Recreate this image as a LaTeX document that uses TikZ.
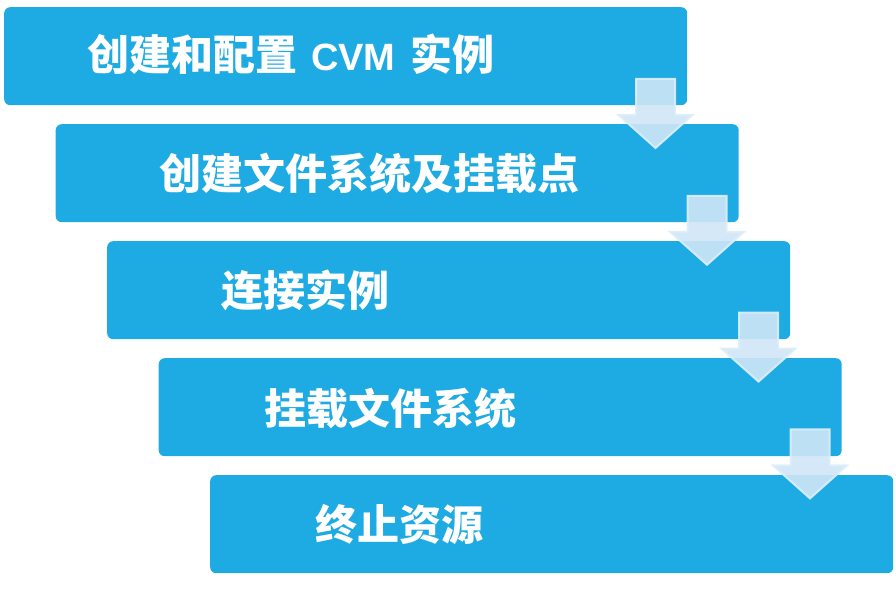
\documentclass[tikz,border=0pt]{standalone}
\usepackage{fontspec}
\newfontfamily\cjk{Noto Sans CJK SC}
\newfontfamily\lat{Liberation Sans}
\definecolor{boxblue}{HTML}{1EAAE2}
\definecolor{arrowfill}{HTML}{D0E6F6}
\definecolor{arrowedge}{HTML}{DDEEF9}
\begin{document}
\begin{tikzpicture}[x=1pt,y=-1pt,
  box/.style={fill=boxblue, rounded corners=6pt, minimum width=683pt, minimum height=98pt, anchor=north west, inner sep=0pt},
  lbl/.style={anchor=base west, inner sep=0pt, text=white, font=\cjk\bfseries\fontsize{42}{42}\selectfont},
  flowarrow/.style={fill=arrowfill, fill opacity=0.9, draw=arrowedge, draw opacity=0.9, line width=2pt, line join=miter}]
\useasboundingbox (0,0) rectangle (896,593);
\node[box] (b1) at (4,7) {};
\node[box] (b2) at (55.5,124) {};
\node[box] (b3) at (107,241) {};
\node[box] (b4) at (158.5,358) {};
\node[box] (b5) at (210,475) {};
\foreach \i in {0,...,3}{
  \pgfmathsetmacro{\c}{655.5+51.5*\i}
  \pgfmathsetmacro{\t}{78+116.8*\i}
  \path[flowarrow] (\c-19.5,\t+1) -- (\c+19.5,\t+1) -- (\c+19.5,\t+37) -- (\c+37,\t+37)
     -- (\c,\t+70) -- (\c-37,\t+37) -- (\c-19.5,\t+37) -- cycle;
}
\node[lbl] (t1) at (87,71) {创建和配置\hspace{14pt}{\lat\fontsize{38}{38}\selectfont CVM}\hspace{15pt}实例};
\node[lbl] (t2) at (159,190) {创建文件系统及挂载点};
\node[lbl] (t3) at (221,307) {连接实例};
\node[lbl] (t4) at (264,424) {挂载文件系统};
\node[lbl] (t5) at (315,540) {终止资源};
\end{tikzpicture}
\end{document}
